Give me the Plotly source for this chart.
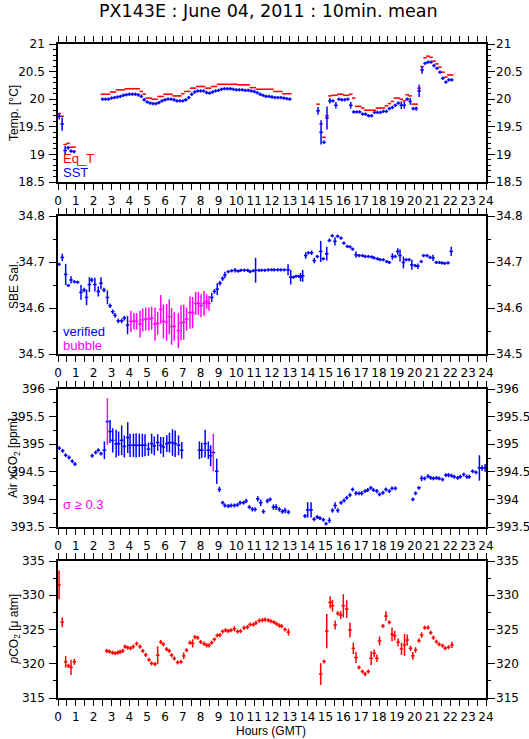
import plotly.graph_objects as go

W, H = 529, 739
BLUE, RED, MAG = '#0000ff', '#ff0000', '#ff00ff'

# ---------------- Temp. panel (minutes of the day) ----------------
temp_min = [4, 14, 24, 34, 44, 54,
            150, 160, 170, 180, 190, 200, 210, 220, 230, 240,
            250, 260, 270, 280, 290, 300, 310, 320, 330, 340,
            350, 360, 370, 380, 390, 400, 410, 420, 430, 440,
            450, 460, 470, 480, 490, 500, 510, 520, 530, 540,
            550, 560, 570, 580, 590, 600, 610, 620, 630, 640,
            650, 660, 670, 680, 690, 700, 710, 720, 730, 740,
            750, 760, 770, 780,
            875, 885, 895, 905, 915, 925, 935, 945, 955, 965,
            975, 985, 995, 1005, 1015, 1025, 1035, 1045, 1055, 1065,
            1075, 1085, 1095, 1105, 1115, 1125, 1135, 1145, 1155, 1165,
            1175, 1185, 1195, 1205, 1215, 1225, 1235, 1245, 1255, 1265,
            1275, 1285, 1295, 1305, 1315, 1325]

eqt = [19.74, 19.69, 19.18, 19.20, 19.13, 19.13,
       20.09, 20.09, 20.09, 20.13, 20.13, 20.17, 20.17, 20.17, 20.19, 20.19,
       20.19, 20.19, 20.19, 20.14, 20.09, 20.02, 20.02, 20.00, 20.00, 20.05,
       20.05, 20.09, 20.09, 20.09, 20.06, 20.06, 20.06, 20.10, 20.14, 20.14,
       20.20, 20.20, 20.23, 20.23, 20.23, 20.20, 20.20, 20.23, 20.23, 20.27,
       20.27, 20.27, 20.27, 20.27, 20.27, 20.27, 20.26, 20.26, 20.26, 20.26,
       20.21, 20.21, 20.18, 20.18, 20.18, 20.18, 20.18, 20.18, 20.14, 20.14,
       20.14, 20.10, 20.10, 20.10,
       19.91, 19.55, 19.31, 19.70, 20.06, 20.07, 20.07, 20.09, 20.09, 20.07,
       20.07, 20.09, 20.02, 19.87, 19.87, 19.84, 19.80, 19.80, 19.80, 19.80,
       19.84, 19.84, 19.84, 19.88, 19.92, 19.96, 20.02, 20.02, 20.00, 19.97,
       20.08, 20.06, 19.91, 19.91, 20.20, 20.59, 20.75, 20.78, 20.76, 20.69,
       20.64, 20.58, 20.49, 20.40, 20.44, 20.44]

sst = [19.69, 19.55, 19.07, 19.12, 19.06, 19.05,
       20.00, 20.00, 20.00, 20.02, 20.03, 20.04, 20.05, 20.07, 20.08, 20.09,
       20.09, 20.09, 20.08, 20.05, 19.99, 19.95, 19.93, 19.92, 19.92, 19.94,
       19.97, 19.99, 20.00, 20.00, 19.99, 19.97, 19.97, 19.97, 19.99, 20.03,
       20.09, 20.13, 20.15, 20.15, 20.15, 20.12, 20.11, 20.13, 20.15, 20.16,
       20.18, 20.19, 20.19, 20.19, 20.18, 20.17, 20.17, 20.17, 20.16, 20.16,
       20.15, 20.14, 20.12, 20.09, 20.07, 20.05, 20.05, 20.04, 20.03, 20.03,
       20.03, 20.02, 20.01, 20.00,
       19.79, 19.40, 19.22, 19.66, 19.97, 19.97, 19.89, 20.00, 19.99, 19.99,
       20.00, 19.89, 19.77, 19.77, 19.77, 19.73, 19.73, 19.70, 19.70, 19.76,
       19.76, 19.76, 19.78, 19.78, 19.83, 19.85, 19.89, 19.93, 19.89, 19.89,
       20.00, 19.96, 19.83, 19.83, 20.15, 20.53, 20.65, 20.67, 20.67, 20.61,
       20.56, 20.49, 20.38, 20.31, 20.35, 20.35]

sst_err = [0.06, 0.12, 0.08, 0.02, 0.03, 0.03,
           0, 0, 0, 0, 0, 0, 0, 0, 0, 0,
           0, 0, 0, 0, 0, 0, 0, 0, 0, 0,
           0, 0, 0, 0, 0, 0, 0, 0, 0, 0,
           0, 0, 0, 0, 0, 0, 0, 0, 0, 0,
           0, 0, 0, 0, 0, 0, 0, 0, 0, 0,
           0, 0, 0, 0, 0, 0, 0, 0, 0, 0,
           0, 0, 0, 0,
           0.07, 0.22, 0.02, 0.21, 0.05, 0.02, 0.06, 0, 0, 0,
           0, 0.06, 0, 0, 0, 0, 0, 0, 0, 0,
           0, 0, 0, 0, 0, 0, 0, 0.03, 0.07, 0.06,
           0, 0.06, 0.03, 0.04, 0.11, 0.07, 0, 0, 0, 0,
           0, 0, 0, 0, 0.02, 0.02]

# ---------------- SBE salinity (hours) ----------------
sal_t = [0.06, 0.24, 0.43, 0.58, 0.73, 0.92, 1.10, 1.29, 1.46, 1.60,
         1.76, 1.89, 2.07, 2.26, 2.41, 2.58, 2.77, 2.92, 3.07, 3.20,
         3.38, 3.57, 3.72, 3.90,
         8.62, 8.77, 8.93, 9.08, 9.23, 9.36, 9.55, 9.74, 9.93, 10.10,
         10.26, 10.45, 10.64, 10.77, 10.95, 11.08, 11.27, 11.42, 11.60, 11.79,
         11.98, 12.13, 12.32, 12.50, 12.69, 12.90, 13.05, 13.20, 13.35, 13.50,
         13.60, 13.72, 13.89, 14.04, 14.22, 14.37, 14.54, 14.73, 14.88, 15.07,
         15.22, 15.38, 15.53, 15.68, 15.87, 16.03, 16.22, 16.37, 16.52, 16.71,
         16.88, 17.07, 17.22, 17.40, 17.59, 17.72, 17.91, 18.06, 18.24, 18.43,
         18.58, 18.75, 18.90, 19.05, 19.18, 19.37, 19.52, 19.69, 19.84, 20.03,
         20.18, 20.37, 20.50, 20.69, 20.86, 21.03, 21.21, 21.38, 21.53, 21.68,
         21.87, 22.05]
sal = [34.695, 34.710, 34.673, 34.649, 34.661, 34.657, 34.656, 34.634, 34.639, 34.623,
       34.651, 34.661, 34.651, 34.636, 34.654, 34.639, 34.623, 34.605, 34.592, 34.584,
       34.572, 34.572, 34.578, 34.563,
       34.623, 34.636, 34.641, 34.654, 34.664, 34.672, 34.679, 34.681, 34.682, 34.680,
       34.682, 34.682, 34.682, 34.679, 34.681, 34.682, 34.682, 34.682, 34.682, 34.683,
       34.683, 34.683, 34.683, 34.683, 34.683, 34.683, 34.667, 34.667, 34.669, 34.669,
       34.667, 34.670, 34.714, 34.720, 34.720, 34.703, 34.712, 34.723, 34.707, 34.718,
       34.747, 34.757, 34.745, 34.756, 34.752, 34.741, 34.734, 34.733, 34.728, 34.716,
       34.714, 34.714, 34.712, 34.712, 34.711, 34.709, 34.707, 34.705, 34.705, 34.701,
       34.699, 34.712, 34.712, 34.723, 34.714, 34.699, 34.705, 34.705, 34.694, 34.692,
       34.691, 34.701, 34.714, 34.714, 34.710, 34.709, 34.699, 34.699, 34.698, 34.697,
       34.698, 34.723]
sal_err = [0, 0.008, 0.023, 0, 0.008, 0, 0, 0.016, 0.005, 0.017,
           0.016, 0.005, 0.015, 0.011, 0.013, 0.005, 0.015, 0.005, 0.005, 0.005,
           0.005, 0.005, 0.005, 0.020,
           0.010, 0.005, 0.013, 0.005, 0.005, 0.007, 0, 0, 0.005, 0,
           0, 0, 0, 0, 0, 0.027, 0, 0, 0, 0,
           0, 0, 0, 0, 0, 0.012, 0.016, 0, 0, 0,
           0.009, 0.013, 0.007, 0, 0.005, 0.006, 0, 0.023, 0, 0.015,
           0.004, 0, 0.009, 0, 0, 0, 0, 0, 0, 0.007,
           0, 0, 0, 0, 0, 0, 0, 0, 0, 0,
           0, 0.007, 0, 0.007, 0.013, 0.013, 0, 0, 0.011, 0,
           0.006, 0, 0, 0, 0, 0.007, 0, 0, 0, 0,
           0, 0.010]

bub_t = [4.09, 4.26, 4.41, 4.60, 4.75, 4.92, 5.10, 5.25, 5.44, 5.59,
         5.76, 5.91, 6.09, 6.24, 6.37, 6.52, 6.75, 6.90, 7.05, 7.21,
         7.40, 7.55, 7.72, 7.87, 8.02, 8.19, 8.34, 8.47]
bub = [34.571, 34.571, 34.571, 34.565, 34.574, 34.576, 34.576, 34.578, 34.565, 34.567,
       34.597, 34.571, 34.569, 34.581, 34.560, 34.560, 34.551, 34.568, 34.569, 34.576,
       34.590, 34.590, 34.610, 34.610, 34.605, 34.610, 34.614, 34.610]
bub_err = [0.023, 0.018, 0.018, 0.029, 0.025, 0.025, 0.025, 0.025, 0.036, 0.025,
           0.031, 0.037, 0.040, 0.038, 0.040, 0.031, 0.038, 0.038, 0.038, 0.025,
           0.035, 0.034, 0.025, 0.025, 0.025, 0.027, 0.016, 0.016]

# ---------------- Air xCO2 (hours) ----------------
xco2_t = [0.07, 0.26, 0.43, 0.62, 0.80, 0.95,
          1.92, 2.11, 2.26, 2.41, 2.60, 2.92, 3.07, 3.26, 3.40, 3.57,
          3.72, 3.91, 4.04, 4.23, 4.38, 4.56, 4.73, 4.88, 5.07, 5.25,
          5.40, 5.59, 5.76, 5.91, 6.10, 6.25, 6.42, 6.57, 6.76, 6.94,
          7.93, 8.06, 8.25, 8.43, 8.56, 8.90, 9.05, 9.23, 9.36, 9.55,
          9.70, 9.89, 10.06, 10.21, 10.40, 10.55, 10.73, 10.90, 11.05, 11.20,
          11.37, 11.52, 11.74, 11.89, 12.08, 12.23, 12.41, 12.58, 12.73, 12.92,
          13.85, 14.00, 14.19, 14.36, 14.54, 14.69, 14.88, 15.03, 15.22, 15.39,
          15.54, 15.69, 15.87, 16.04, 16.19, 16.37, 16.52, 16.71, 16.88, 17.03,
          17.22, 17.37, 17.54, 17.69, 17.88, 18.03, 18.22, 18.39, 18.58, 18.73,
          18.92,
          19.90, 20.05, 20.24, 20.39, 20.56, 20.75, 20.90, 21.05, 21.22, 21.37,
          21.56, 21.75, 21.90, 22.07, 22.22, 22.41, 22.56, 22.75, 22.93, 23.06,
          23.25, 23.44, 23.63, 23.78, 23.95]
xco2 = [394.93, 394.88, 394.80, 394.76, 394.69, 394.64,
        394.79, 394.85, 394.89, 394.83, 394.89, 395.23, 395.07, 395.01, 395.01, 395.07,
        394.96, 395.12, 394.98, 394.98, 394.98, 394.98, 394.98, 394.98, 394.91, 395.01,
        394.97, 395.03, 394.98, 394.95, 395.01, 395.03, 395.03, 395.01, 394.98, 394.89,
        394.89, 394.89, 395.01, 394.89, 394.79, 394.51, 394.18, 393.94, 393.89, 393.88,
        393.89, 393.89, 393.90, 393.94, 393.94, 393.97, 393.86, 393.82, 393.82, 394.01,
        393.94, 393.78, 393.97, 394.00, 393.86, 393.86, 393.82, 393.78, 393.80, 393.77,
        393.70, 393.81, 393.81, 393.64, 393.68, 393.66, 393.63, 393.56, 393.62, 393.80,
        393.89, 393.80, 393.94, 393.98, 394.03, 394.08, 394.18, 394.11, 394.11, 394.11,
        394.15, 394.17, 394.21, 394.17, 394.15, 394.09, 394.12, 394.18, 394.15, 394.20,
        394.20,
        394.00, 394.11, 394.21, 394.38, 394.38, 394.42, 394.39, 394.38, 394.39, 394.38,
        394.36, 394.44, 394.44, 394.43, 394.41, 394.39, 394.41, 394.45, 394.41, 394.41,
        394.51, 394.49, 394.57, 394.57, 394.57]
xco2_err = [0, 0, 0, 0, 0, 0,
            0, 0, 0, 0, 0.16, 0.21, 0.22, 0.25, 0.22, 0.27,
            0.20, 0.28, 0.21, 0.21, 0.22, 0.21, 0.21, 0.20, 0.12, 0.18,
            0.17, 0.15, 0.15, 0.18, 0.15, 0.18, 0.24, 0.24, 0.18, 0.15,
            0.16, 0.14, 0.25, 0.16, 0.19, 0.23, 0.05, 0, 0, 0,
            0, 0, 0, 0, 0, 0.04, 0, 0.04, 0.04, 0.05,
            0.06, 0.04, 0.04, 0, 0.05, 0.05, 0.04, 0.04, 0.05, 0.04,
            0, 0.14, 0.14, 0, 0, 0, 0, 0, 0.05, 0.04,
            0.06, 0.04, 0, 0, 0, 0.04, 0, 0.04, 0, 0.04,
            0, 0, 0, 0, 0.04, 0, 0, 0, 0, 0,
            0,
            0, 0, 0, 0.05, 0, 0, 0, 0, 0, 0,
            0, 0, 0.04, 0, 0, 0, 0, 0, 0, 0,
            0, 0, 0.23, 0.05, 0.07]
# points flagged sigma >= 0.3
xco2_hi_t = [2.77, 8.71]
xco2_hi = [395.41, 394.85]
xco2_hi_err = [0.42, 0.34]

# ---------------- pCO2 (hours) ----------------
pco2_t = [0.06, 0.24, 0.43, 0.58, 0.73, 0.92,
          2.73, 2.88, 3.05, 3.20, 3.35, 3.48, 3.63, 3.76, 3.91, 4.07,
          4.22, 4.41, 4.60, 4.75, 4.92, 5.10, 5.25, 5.44, 5.59, 5.76,
          5.91, 6.09, 6.24, 6.37, 6.52, 6.71, 6.90, 7.05, 7.21, 7.40,
          7.55, 7.68, 7.83, 8.00, 8.19, 8.34, 8.47, 8.62, 8.77, 8.93,
          9.08, 9.23, 9.40, 9.55, 9.70, 9.89, 10.07, 10.24, 10.43, 10.62,
          10.77, 10.95, 11.10, 11.29, 11.46, 11.61, 11.79, 11.94, 12.11, 12.26,
          12.41, 12.54, 12.73, 12.92,
          14.73, 14.92, 15.07, 15.26, 15.39, 15.54, 15.69, 15.85, 16.00, 16.19,
          16.37, 16.56, 16.71, 16.88, 17.07, 17.22, 17.40, 17.56, 17.73, 17.88,
          18.03, 18.22, 18.39, 18.58, 18.73, 18.88, 19.07, 19.26, 19.43, 19.58,
          19.77, 19.90, 20.05, 20.24, 20.39, 20.56, 20.75, 20.90, 21.05, 21.22,
          21.37, 21.56, 21.71, 21.90, 22.09]
pco2 = [331.50, 326.06, 320.29, 319.71, 319.47, 320.29,
        321.88, 321.78, 321.63, 321.54, 321.63, 321.73, 321.88, 322.50, 322.36, 322.26,
        322.50, 322.93, 322.50, 321.88, 321.30, 320.58, 320.05, 319.95, 321.25, 323.17,
        322.84, 322.12, 321.88, 321.25, 320.77, 320.19, 320.29, 321.15, 321.97, 323.08,
        322.98, 323.89, 323.80, 323.17, 322.93, 322.69, 322.69, 323.08, 323.56, 324.13,
        324.18, 324.71, 324.90, 324.76, 324.90, 325.10, 324.71, 324.76, 325.24, 325.34,
        325.72, 325.72, 325.96, 326.30, 326.35, 326.44, 326.35, 326.20, 326.06, 325.82,
        325.58, 325.48, 325.00, 324.62,
        318.49, 320.33, 324.78, 328.95, 328.46, 325.65, 327.35, 327.11, 328.46, 327.98,
        324.93, 322.26, 320.91, 319.46, 318.87, 318.49, 318.87, 320.81, 321.54, 320.81,
        323.33, 325.51, 326.96, 326.04, 324.30, 324.10, 323.14, 322.17, 322.75, 323.47,
        322.26, 321.15, 322.02, 323.38, 324.20, 325.27, 325.27, 324.54, 323.81, 323.23,
        322.84, 322.65, 322.26, 322.41, 322.75]
pco2_err = [2.1, 0.7, 0.85, 0.3, 1.1, 0.45,
            0, 0, 0, 0, 0, 0, 0, 0, 0, 0,
            0, 0, 0, 0, 0, 0, 0, 0, 1.3, 0,
            0, 0, 0, 0, 0, 0, 0, 0.5, 0, 0,
            0.6, 0, 0, 0, 0, 0, 0, 0, 0, 0,
            0, 0, 0, 0, 0, 0.4, 0, 0, 0, 0,
            0, 0, 0, 0, 0, 0, 0, 0, 0, 0,
            0, 0, 0, 0.5,
            1.6, 0, 2.5, 0.9, 0.85, 0.65, 0, 0.6, 1.7, 1.3,
            1.1, 0.85, 0.8, 0, 0, 0, 0, 1.0, 0.55, 0.55,
            0.65, 0, 0.7, 0, 1.0, 0.7, 0.6, 0.9, 1.6, 0.8,
            0.4, 0.55, 0.4, 0, 0.4, 0, 0, 0, 0, 0,
            0, 0, 0, 0, 0.45]

# ------------------------------------------------------------------
XD = [58 / W, 486 / W]
PANELS = [(44, 182), (216, 354), (389, 527), (561, 698)]   # top, bottom px
YR = [(18.5, 21), (34.5, 34.8), (393.5, 396), (315, 335)]
YDT = [0.5, 0.1, 0.5, 5]
YMIN = [0.1, 0.05, 0.25, 2.5]
ARM = [0.03, 0.0035, 0.035, 0.3]   # smallest vertical arm of a "+"
HX = 0.1                            # half width of the 10 min bin (hours)


def cross(i, x, y, err, color, ycolor=None, show_y=True):
    arm = ARM[i - 1]
    return go.Scatter(
        x=x, y=y, mode='markers',
        marker=dict(size=1, color=color),
        error_x=dict(type='constant', value=HX, width=0, thickness=1.5, color=color),
        error_y=dict(type='data', array=[max(e, arm) for e in err], width=0,
                     thickness=1.5, color=ycolor or color, visible=show_y),
        xaxis='x' if i == 1 else f'x{i}', yaxis='y' if i == 1 else f'y{i}',
        showlegend=False, hoverinfo='skip'
    )


fig = go.Figure()
temp_h = [m / 60 for m in temp_min]
fig.add_trace(cross(1, temp_h, eqt, [0] * len(eqt), RED, show_y=False))
fig.add_trace(cross(1, temp_h, sst, sst_err, BLUE))
fig.add_trace(cross(2, sal_t, sal, sal_err, BLUE))
fig.add_trace(cross(2, bub_t, bub, bub_err, MAG))
fig.add_trace(cross(3, xco2_t, xco2, xco2_err, BLUE))
fig.add_trace(cross(3, xco2_hi_t, xco2_hi, xco2_hi_err, BLUE, ycolor=MAG))
fig.add_trace(cross(4, pco2_t, pco2, pco2_err, RED))

TICKF = dict(family='DejaVu Sans', size=12, color='black')
layout = dict(width=W, height=H, margin=dict(l=0, r=0, t=0, b=0, autoexpand=False),
              paper_bgcolor='white', plot_bgcolor='white', showlegend=False)

for i, (top, bot) in enumerate(PANELS, start=1):
    dom = [1 - bot / H, 1 - top / H]
    sx = '' if i == 1 else str(i)
    layout[f'xaxis{sx}'] = dict(
        domain=XD, anchor=f'y{sx}', range=[0, 24], tick0=0, dtick=1,
        ticks='outside', ticklen=6, tickwidth=1, tickcolor='black',
        minor=dict(dtick=0.5, ticks='outside', ticklen=6, tickwidth=1, tickcolor='black'),
        showline=True, linecolor='black', linewidth=1.5, mirror='ticks',
        showgrid=False, zeroline=False, tickfont=TICKF, ticklabelstandoff=1)
    lo, hi = YR[i - 1]
    layout[f'yaxis{sx}'] = dict(
        domain=dom, anchor=f'x{sx}', range=[lo, hi], tick0=lo, dtick=YDT[i - 1],
        ticks='outside', ticklen=7, tickwidth=1, tickcolor='black',
        minor=dict(dtick=YMIN[i - 1], ticks='outside', ticklen=3, tickwidth=1, tickcolor='black'),
        showline=True, linecolor='black', linewidth=1.5, mirror='ticks',
        showgrid=False, zeroline=False, tickfont=TICKF, ticklabelstandoff=2)
    # right-hand labels
    j = i + 4
    layout[f'yaxis{j}'] = dict(
        overlaying=f'y{sx}', anchor=f'x{sx}', side='right', range=[lo, hi],
        tick0=lo, dtick=YDT[i - 1], ticks='', showline=False, showgrid=False,
        zeroline=False, tickfont=TICKF, ticklabelstandoff=9)
    fig.add_trace(go.Scatter(x=[None], y=[None], xaxis=f'x{sx}', yaxis=f'y{j}',
                             showlegend=False, hoverinfo='skip'))

LBL = dict(family='Liberation Sans', size=12, color='black')
ylabels = ['Temp. [°C]', 'SBE Sal.', 'Air xCO<sub>2</sub> [ppm]',
           '<i>p</i>CO<sub>2</sub> [μ atm]']
ann = [dict(text='PX143E : June 04, 2011 : 10min. mean', x=268 / W, y=1 - 11 / H,
            xanchor='center', yanchor='middle', xref='paper', yref='paper',
            showarrow=False, font=dict(family='DejaVu Sans', size=17.5, color='black'))]
for (top, bot), t in zip(PANELS, ylabels):
    ann.append(dict(text=t, x=14 / W, y=1 - (top + bot) / 2 / H, textangle=-90,
                    xanchor='center', yanchor='middle', xref='paper', yref='paper',
                    showarrow=False, font=LBL))
ann.append(dict(text='Hours (GMT)', x=271 / W, y=1 - 731 / H, xanchor='center',
                yanchor='middle', xref='paper', yref='paper', showarrow=False, font=LBL))
legend_txt = [('Eq_T', RED, 158), ('SST', BLUE, 172.5), ('verified', BLUE, 331),
              ('bubble', MAG, 345), ('σ ≥ 0.3', MAG, 504)]
for t, c, yp in legend_txt:
    ann.append(dict(text=t, x=61 / W, y=1 - yp / H, xanchor='left', yanchor='middle',
                    xref='paper', yref='paper', showarrow=False,
                    font=dict(family='Liberation Sans', size=13, color=c)))
layout['annotations'] = ann

fig.update_layout(**layout)
fig.write_html('out.html', config={'displayModeBar': False},
               post_script="document.body.style.margin='0';")
